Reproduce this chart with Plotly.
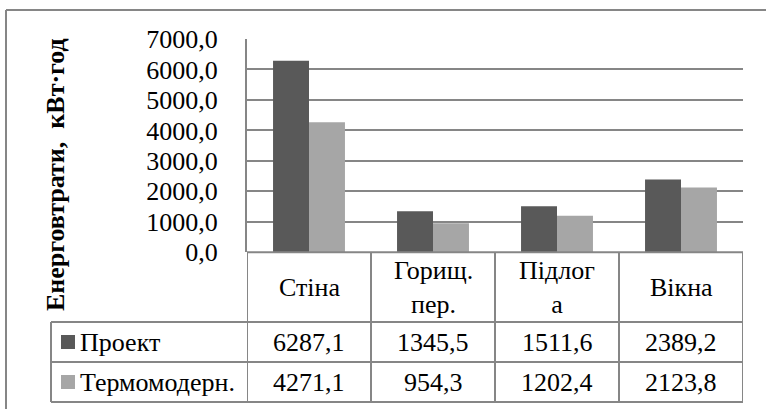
import plotly.graph_objects as go

# ---- data ----
categories = ["Стіна", "Горищ. пер.", "Підлога", "Вікна"]
header_labels = ["Стіна", "Горищ.<br>пер.", "Підлог<br>а", "Вікна"]
series_names = ["Проект", "Термомодерн."]
project = [6287.1, 1345.5, 1511.6, 2389.2]
thermo = [4271.1, 954.3, 1202.4, 2123.8]
y_ticks = [0, 1000, 2000, 3000, 4000, 5000, 6000, 7000]
y_title = "Енерговтрати,  кВт·год"

# ---- styling ----
W, H = 766, 409
FONT = "Liberation Serif"
FS = 26
DARK = "#595959"
LIGHT = "#a6a6a6"
LINE = "#868686"


def tfont(bold=False):
    d = dict(family=FONT, size=FS, color="#000000")
    if bold:
        d["weight"] = "bold"
    return d


def px(x):
    return x / W


def py(y):
    return 1 - y / H


plot_left, plot_right = 247, 743
plot_top, plot_bottom = 39, 252.3
row1_top, row2_top, row3_top, table_bottom = 252.3, 322, 362, 402
legend_left = 51

fig = go.Figure()
fig.add_trace(go.Bar(x=categories, y=project, name=series_names[0],
                     marker=dict(color=DARK, line=dict(width=0))))
fig.add_trace(go.Bar(x=categories, y=thermo, name=series_names[1],
                     marker=dict(color=LIGHT, line=dict(width=0))))

fig.update_layout(
    template="none",
    width=W, height=H, autosize=False,
    margin=dict(l=0, r=0, t=0, b=0, pad=0, autoexpand=False),
    paper_bgcolor="white", plot_bgcolor="white",
    barmode="group", bargap=0.42, bargroupgap=0,
    showlegend=False,
    separators=", ",
    xaxis=dict(domain=[px(plot_left), px(plot_right)], showticklabels=False,
               showgrid=False, zeroline=False, showline=False, ticks="",
               automargin=False,
               range=[-0.5, len(categories) - 0.5], fixedrange=True),
    yaxis=dict(domain=[py(plot_bottom), py(plot_top)], range=[0, 7000],
               tickvals=y_ticks, tickformat=".1f", automargin=False,
               showgrid=True, gridcolor=LINE, gridwidth=2,
               zeroline=False, showline=True, linecolor=LINE, linewidth=2,
               ticks="", ticklabelstandoff=22,
               tickfont=tfont()),
)

shapes = []
# outer chart border (only left and top visible inside the picture)
shapes.append(dict(type="line", xref="paper", yref="paper",
                   x0=px(6), x1=1, y0=py(10), y1=py(10),
                   line=dict(color=LINE, width=2)))
shapes.append(dict(type="line", xref="paper", yref="paper",
                   x0=px(6), x1=px(6), y0=py(10), y1=0,
                   line=dict(color=LINE, width=2)))
# table horizontal lines
for yy, x0 in [(row1_top, plot_left), (row2_top, legend_left),
               (row3_top, legend_left), (table_bottom, legend_left)]:
    shapes.append(dict(type="line", xref="paper", yref="paper",
                       x0=px(x0), x1=px(plot_right), y0=py(yy), y1=py(yy),
                       line=dict(color=LINE, width=2)))
# column dividers (category boundaries on the x axis)
for i in range(len(categories) + 1):
    shapes.append(dict(type="line", xref="x", yref="paper",
                       x0=i - 0.5, x1=i - 0.5, y0=py(row1_top), y1=py(table_bottom),
                       line=dict(color=LINE, width=2)))
# legend column left border
shapes.append(dict(type="line", xref="paper", yref="paper",
                   x0=px(legend_left), x1=px(legend_left),
                   y0=py(row2_top), y1=py(table_bottom),
                   line=dict(color=LINE, width=2)))
# legend keys
for (yc, col) in [((row2_top + row3_top) / 2, DARK), ((row3_top + table_bottom) / 2, LIGHT)]:
    shapes.append(dict(type="rect", xref="paper", yref="paper",
                       x0=px(61), x1=px(75), y0=py(yc - 7), y1=py(yc + 7),
                       fillcolor=col, line=dict(width=0)))

annotations = []
# y-axis title
annotations.append(dict(text=y_title, xref="paper", yref="paper",
                        x=px(56), y=py(175), textangle=-90, showarrow=False,
                        xanchor="center", yanchor="middle", font=tfont(bold=True)))
# header row
for i, lab in enumerate(header_labels):
    annotations.append(dict(text=lab, xref="x", yref="paper", x=i,
                            y=py((row1_top + row2_top) / 2), showarrow=False,
                            xanchor="center", yanchor="middle", font=tfont()))


# value rows
def fmt(v):
    return f"{v:.1f}".replace(".", ",")


for vals, ytop, ybot, name in [(project, row2_top, row3_top, series_names[0]),
                               (thermo, row3_top, table_bottom, series_names[1])]:
    yc = py((ytop + ybot) / 2)
    annotations.append(dict(text=name, xref="paper", yref="paper", x=px(78), y=yc,
                            showarrow=False, xanchor="left", yanchor="middle",
                            font=tfont()))
    for i, v in enumerate(vals):
        annotations.append(dict(text=fmt(v), xref="x", yref="paper", x=i, y=yc,
                                showarrow=False, xanchor="center", yanchor="middle",
                                font=tfont()))

fig.update_layout(shapes=shapes, annotations=annotations)
fig.write_html("out.html")
